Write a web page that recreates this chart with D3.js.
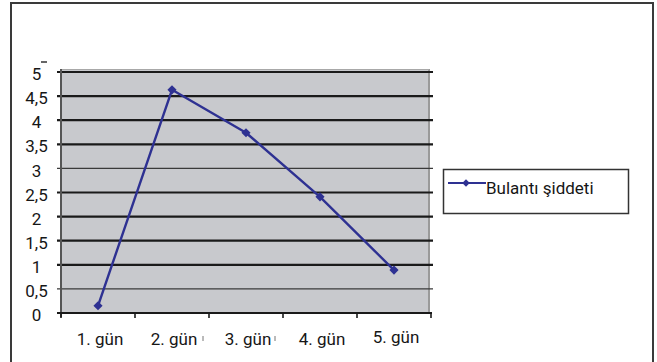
<!DOCTYPE html>
<html>
<head>
<meta charset="utf-8">
<script src="https://cdn.jsdelivr.net/npm/d3@7"></script>
<style>
  html, body { margin: 0; padding: 0; background: #fff; }
  svg { display: block; }
  text { font-family: Roboto, "Liberation Sans", sans-serif; fill: #161616; }
</style>
</head>
<body>
<svg id="chart" width="657" height="362"></svg>
<script>
const categories = ["1. gün", "2. gün", "3. gün", "4. gün", "5. gün"];
const values = [0.15, 4.63, 3.74, 2.41, 0.89];
const seriesName = "Bulantı şiddeti";
const yTicks = [0, 0.5, 1, 1.5, 2, 2.5, 3, 3.5, 4, 4.5, 5];
const yTickLabels = ["0", "0,5", "1", "1,5", "2", "2,5", "3", "3,5", "4", "4,5", "5"];

const svg = d3.select("#chart");
const plot = { left: 61, right: 431, top: 72, bottom: 313 };
const lineColor = "#2e3192";
const fontSize = "17px";

// outer frame
svg.append("rect").attr("x", 11).attr("y", 3).attr("width", 642).attr("height", 380)
  .attr("fill", "#fff").attr("stroke", "#3a3a3a").attr("stroke-width", 2);

const x = d3.scaleBand().domain(categories).range([plot.left, plot.right]).padding(0);
const y = d3.scaleLinear().domain([0, 5]).range([plot.bottom, plot.top]);

// plot background
svg.append("rect").attr("x", plot.left).attr("y", plot.top - 3)
  .attr("width", 429 - plot.left).attr("height", plot.bottom - plot.top + 3)
  .attr("fill", "#c8c9cd");
svg.append("line").attr("x1", 429).attr("x2", 429).attr("y1", plot.top - 3).attr("y2", plot.bottom)
  .attr("stroke", "#9a9a9a").attr("stroke-width", 2);
svg.append("line").attr("x1", plot.left - 1).attr("x2", 429).attr("y1", plot.top - 2.5).attr("y2", plot.top - 2.5)
  .attr("stroke", "#a8a8a8").attr("stroke-width", 1);

// gridlines
svg.append("g").selectAll("line").data(yTicks.filter(d => d > 0)).join("line")
  .attr("x1", plot.left - 4).attr("x2", plot.right + 2)
  .attr("y1", d => y(d)).attr("y2", d => y(d))
  .attr("stroke", d => (d === 3 || d === 0.5) ? "#3a3a3a" : "#1a1a1a")
  .attr("stroke-width", d => (d === 3 || d === 0.5) ? 1.4 : 2.2);

// y axis line
svg.append("line").attr("x1", plot.left).attr("x2", plot.left)
  .attr("y1", plot.top - 3).attr("y2", plot.bottom + 4)
  .attr("stroke", "#555").attr("stroke-width", 2);

// y axis via d3
const yAxis = d3.axisLeft(y).tickValues(yTicks).tickSize(0)
  .tickFormat((d, i) => yTickLabels[i]);
const gy = svg.append("g").attr("transform", `translate(${plot.left},0)`).call(yAxis);
gy.select(".domain").remove();
gy.selectAll("text").attr("x", 36.5 - plot.left).attr("text-anchor", "middle")
  .attr("dy", "0.45em").style("font-size", fontSize).style("font-family", "Roboto, sans-serif")
  .attr("fill", "#161616");

// small dash above 5
svg.append("line").attr("x1", 41).attr("x2", 47).attr("y1", 62).attr("y2", 62)
  .attr("stroke", "#333").attr("stroke-width", 1.5);

// x axis
svg.append("line").attr("x1", plot.left - 4).attr("x2", plot.right + 1)
  .attr("y1", plot.bottom).attr("y2", plot.bottom)
  .attr("stroke", "#1a1a1a").attr("stroke-width", 2.2);
const boundaries = categories.map(c => x(c)).concat([x(categories[categories.length - 1]) + x.bandwidth()]);
svg.append("g").selectAll("line").data(boundaries).join("line")
  .attr("x1", d => d).attr("x2", d => d)
  .attr("y1", plot.bottom).attr("y2", plot.bottom + 5)
  .attr("stroke", "#1a1a1a").attr("stroke-width", 1.6);

svg.append("g").selectAll("text").data(categories).join("text")
  .attr("x", d => x(d) + x.bandwidth() / 2 + 2)
  .attr("y", (d, i) => i === 4 ? 343 : 345)
  .attr("text-anchor", "middle").style("font-size", fontSize)
  .text(d => d);

// small scan marks between labels
[[203, 336, 341], [275, 336, 341]].forEach(m => {
  svg.append("line").attr("x1", m[0]).attr("x2", m[0]).attr("y1", m[1]).attr("y2", m[2])
    .attr("stroke", "#777").attr("stroke-width", 1);
});

// series line
const pts = categories.map((c, i) => [x(c) + x.bandwidth() / 2, y(values[i])]);
svg.append("path").datum(pts)
  .attr("d", d3.line())
  .attr("fill", "none").attr("stroke", lineColor).attr("stroke-width", 2.4)
  .attr("stroke-linejoin", "round");

const marker = d3.symbol(d3.symbolSquare, 42);
svg.append("g").selectAll("path").data(pts).join("path")
  .attr("d", marker)
  .attr("transform", d => `translate(${d[0]},${d[1]}) rotate(45)`)
  .attr("fill", lineColor);

// legend
svg.append("rect").attr("x", 443.5).attr("y", 169.5).attr("width", 185).attr("height", 44)
  .attr("fill", "#fff").attr("stroke", "#333").attr("stroke-width", 1.5);
svg.append("line").attr("x1", 448).attr("x2", 486).attr("y1", 183).attr("y2", 183)
  .attr("stroke", lineColor).attr("stroke-width", 2);
svg.append("path").attr("d", d3.symbol(d3.symbolSquare, 28))
  .attr("transform", "translate(466,183) rotate(45)").attr("fill", lineColor);
svg.append("text").attr("x", 486).attr("y", 194).style("font-size", fontSize).text(seriesName);
</script>
</body>
</html>
